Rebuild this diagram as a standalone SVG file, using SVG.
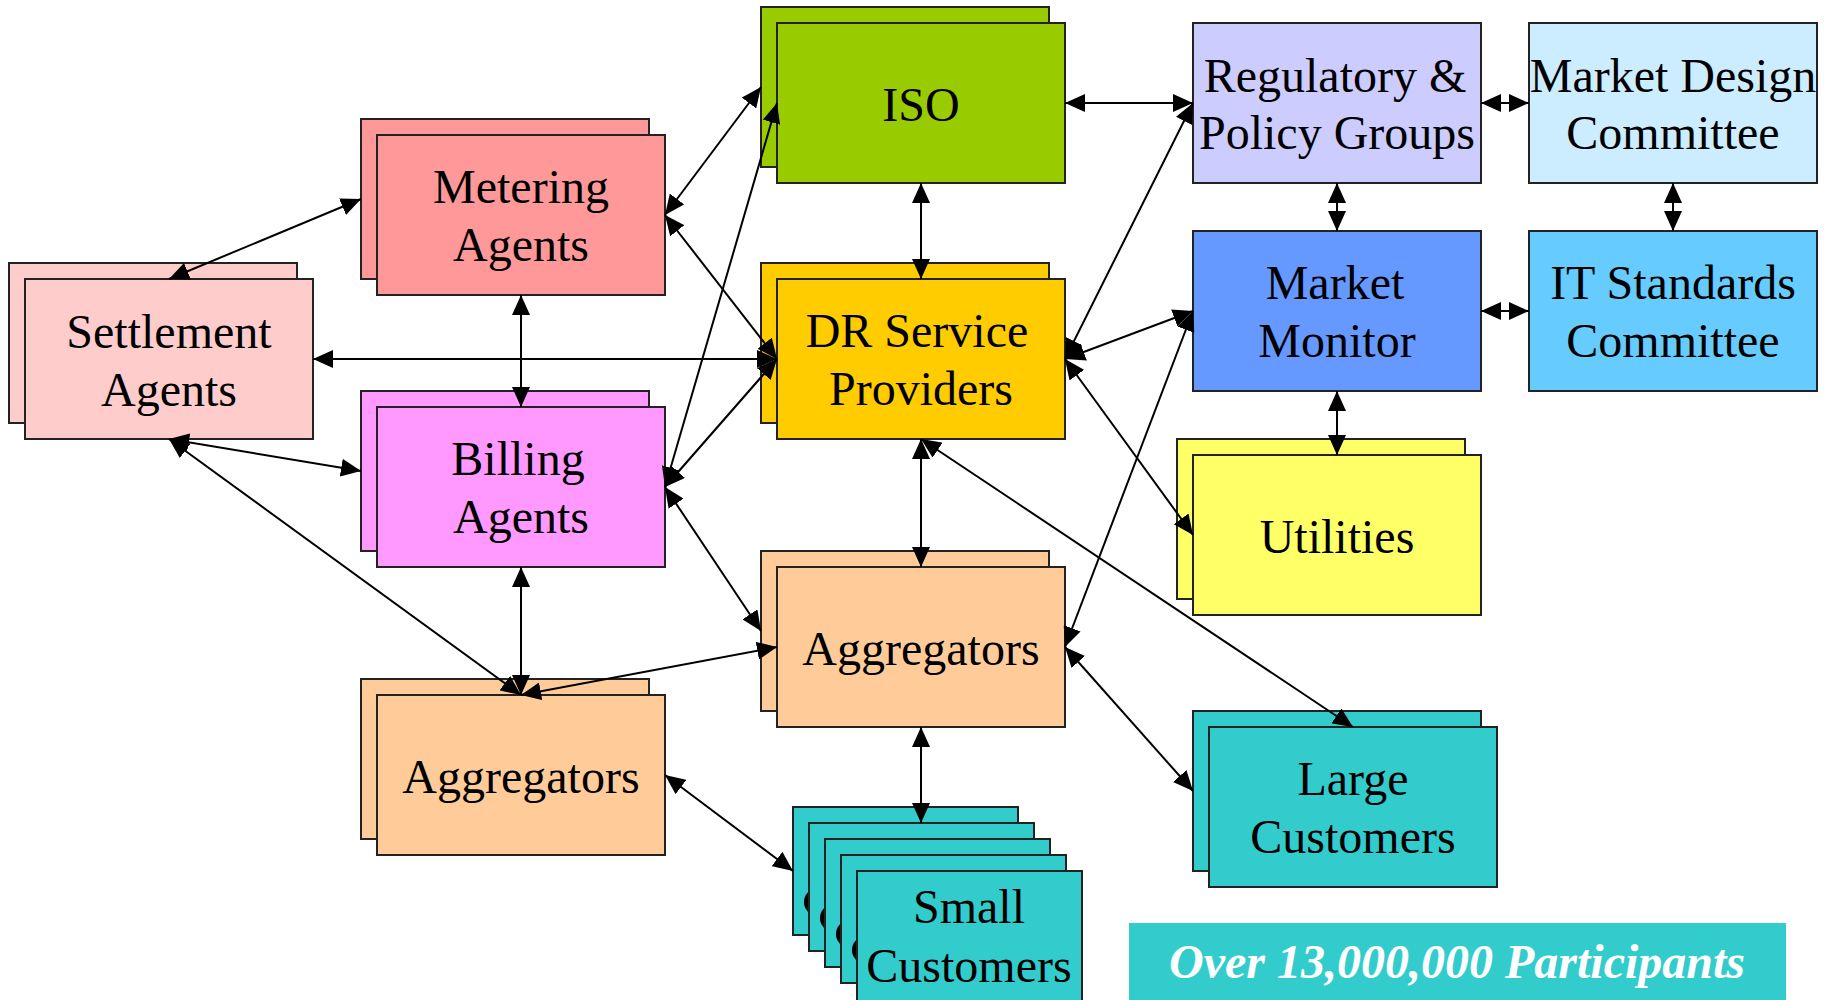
<svg xmlns="http://www.w3.org/2000/svg" width="1831" height="1000" viewBox="0 0 1831 1000">
<style>
.b{stroke:#222;stroke-width:2}
.t{font-family:"Liberation Serif","Times New Roman",serif;font-size:48px;fill:#000;text-anchor:middle}
.c line{stroke:#000;stroke-width:2;marker-start:url(#a);marker-end:url(#a)}
.set{fill:#FFCCCC}.met{fill:#FF9999}.bil{fill:#FF99FF}.agg{fill:#FFCC99}.iso{fill:#99CC00}.dr{fill:#FFCC00}
.reg{fill:#CCCCFF}.md{fill:#CCECFF}.mm{fill:#6699FF}.it{fill:#66CCFF}.ut{fill:#FFFF66}.cu{fill:#33CCCC}
.cr{fill:#000}
</style>
<defs>
<marker id="a" viewBox="0 0 20 18" refX="20" refY="9" markerWidth="20" markerHeight="18" markerUnits="userSpaceOnUse" orient="auto-start-reverse"><path d="M0,0L20,9L0,18z" fill="#000"/></marker>
</defs>
<rect width="1831" height="1000" fill="#fff"/>
<g id="settlement"><rect class="b set" x="9" y="263" width="288" height="160"/><rect class="b set" x="25" y="279" width="288" height="160"/><text class="t" x="169" y="348">Settlement</text><text class="t" x="169" y="406">Agents</text></g>
<g id="metering"><rect class="b met" x="361" y="119" width="288" height="160"/><rect class="b met" x="377" y="135" width="288" height="160"/><text class="t" x="521" y="203">Metering</text><text class="t" x="521" y="261">Agents</text></g>
<g id="billing"><rect class="b bil" x="361" y="391" width="288" height="160"/><rect class="b bil" x="377" y="407" width="288" height="160"/><text class="t" x="518" y="475">Billing</text><text class="t" x="521" y="533">Agents</text></g>
<g id="aggregators-left"><rect class="b agg" x="361" y="679" width="288" height="160"/><rect class="b agg" x="377" y="695" width="288" height="160"/><text class="t" x="521" y="793">Aggregators</text></g>
<g id="iso"><rect class="b iso" x="761" y="7" width="288" height="160"/><rect class="b iso" x="777" y="23" width="288" height="160"/><text class="t" x="921" y="121">ISO</text></g>
<g id="dr"><rect class="b dr" x="761" y="263" width="288" height="160"/><rect class="b dr" x="777" y="279" width="288" height="160"/><text class="t" x="917" y="347">DR Service</text><text class="t" x="921" y="405">Providers</text></g>
<g id="aggregators-mid"><rect class="b agg" x="761" y="551" width="288" height="160"/><rect class="b agg" x="777" y="567" width="288" height="160"/><text class="t" x="921" y="665">Aggregators</text></g>
<g id="regulatory"><rect class="b reg" x="1193" y="23" width="288" height="160"/><text class="t" x="1335" y="92">Regulatory &amp;</text><text class="t" x="1337" y="149">Policy Groups</text></g>
<g id="market-design"><rect class="b md" x="1529" y="23" width="288" height="160"/><text class="t" x="1673" y="92">Market Design</text><text class="t" x="1673" y="149">Committee</text></g>
<g id="market-monitor"><rect class="b mm" x="1193" y="231" width="288" height="160"/><text class="t" x="1335" y="299">Market</text><text class="t" x="1337" y="357">Monitor</text></g>
<g id="it-standards"><rect class="b it" x="1529" y="231" width="288" height="160"/><text class="t" x="1673" y="299">IT Standards</text><text class="t" x="1673" y="357">Committee</text></g>
<g id="utilities"><rect class="b ut" x="1177" y="439" width="288" height="160"/><rect class="b ut" x="1193" y="455" width="288" height="160"/><text class="t" x="1337" y="553">Utilities</text></g>
<g id="large-customers"><rect class="b cu" x="1193" y="711" width="288" height="160"/><rect class="b cu" x="1209" y="727" width="288" height="160"/><text class="t" x="1353" y="795">Large</text><text class="t" x="1353" y="853">Customers</text></g>
<g id="small-customers">
<rect class="b cu" x="793" y="807" width="225" height="128"/><ellipse class="cr" cx="816" cy="902" rx="12" ry="13"/>
<rect class="b cu" x="809" y="823" width="225" height="128"/><ellipse class="cr" cx="832" cy="918" rx="12" ry="13"/>
<rect class="b cu" x="825" y="839" width="225" height="128"/><ellipse class="cr" cx="848" cy="934" rx="12" ry="13"/>
<rect class="b cu" x="841" y="855" width="225" height="128"/><ellipse class="cr" cx="864" cy="950" rx="12" ry="13"/>
<rect class="b cu" x="857" y="871" width="225" height="130"/><text class="t" x="969" y="923">Small</text><text class="t" x="969" y="982">Customers</text>
</g>
<g id="banner"><rect x="1129" y="923" width="657" height="77" fill="#33CCCC"/><text x="1457" y="978" style="font-family:'Liberation Serif','Times New Roman',serif;font-size:48px;font-weight:bold;font-style:italic;fill:#fff;text-anchor:middle">Over 13,000,000 Participants</text></g>
<g id="connectors" class="c">
<line x1="169" y1="279" x2="361" y2="199"/>
<line x1="521" y1="295" x2="521" y2="407"/>
<line x1="313" y1="359" x2="777" y2="359"/>
<line x1="665" y1="215" x2="761" y2="87"/>
<line x1="665" y1="215" x2="777" y2="359"/>
<line x1="665" y1="487" x2="777" y2="103"/>
<line x1="665" y1="487" x2="777" y2="359"/>
<line x1="665" y1="487" x2="761" y2="631"/>
<line x1="169" y1="439" x2="361" y2="471"/>
<line x1="169" y1="439" x2="521" y2="695"/>
<line x1="521" y1="567" x2="521" y2="695"/>
<line x1="777" y1="647" x2="521" y2="695"/>
<line x1="665" y1="775" x2="793" y2="871"/>
<line x1="921" y1="183" x2="921" y2="279"/>
<line x1="921" y1="439" x2="921" y2="567"/>
<line x1="921" y1="727" x2="921" y2="823"/>
<line x1="921" y1="439" x2="1353" y2="727"/>
<line x1="1065" y1="647" x2="1193" y2="791"/>
<line x1="1065" y1="647" x2="1193" y2="311"/>
<line x1="1065" y1="359" x2="1193" y2="103"/>
<line x1="1065" y1="359" x2="1193" y2="311"/>
<line x1="1065" y1="359" x2="1193" y2="535"/>
<line x1="1065" y1="103" x2="1193" y2="103"/>
<line x1="1481" y1="103" x2="1529" y2="103"/>
<line x1="1337" y1="183" x2="1337" y2="231"/>
<line x1="1673" y1="183" x2="1673" y2="231"/>
<line x1="1481" y1="311" x2="1529" y2="311"/>
<line x1="1337" y1="391" x2="1337" y2="455"/>
</g>
</svg>
